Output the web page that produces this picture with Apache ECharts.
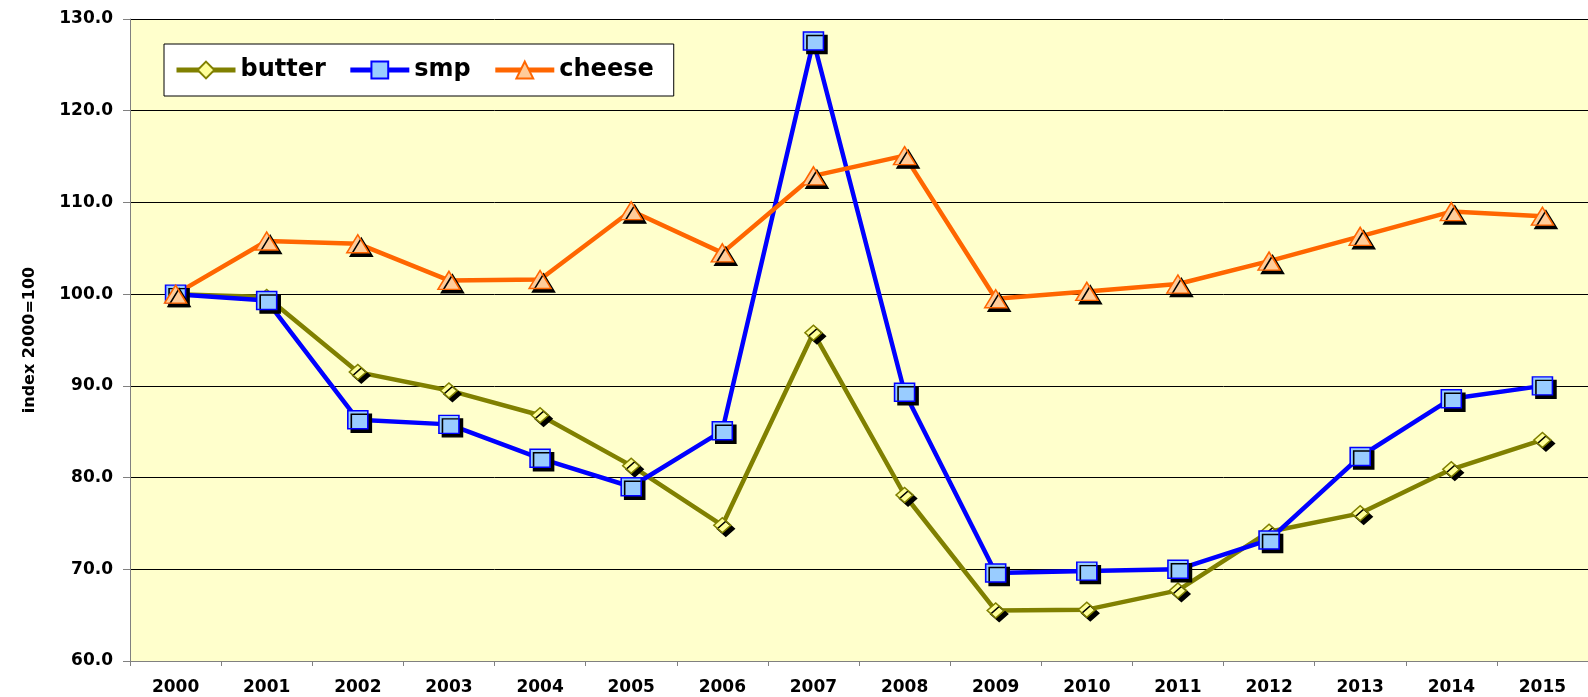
<!DOCTYPE html>
<html>
<head>
<meta charset="utf-8">
<script src="https://cdn.jsdelivr.net/npm/echarts@6/dist/echarts.min.js"></script>
<style>
  html, body { margin: 0; padding: 0; background: #fff; }
</style>
</head>
<body>
<div id="myChart" style="width:1588px;height:697px"></div>
<script>
var years = ['2000', '2001', '2002', '2003', '2004', '2005', '2006', '2007',
  '2008', '2009', '2010', '2011', '2012', '2013', '2014', '2015']

var butter = [100.0, 99.7, 91.5, 89.5, 86.8, 81.3, 74.8, 95.8, 78.1, 65.5, 65.6, 67.7, 74.1, 76.1, 80.9, 84.1]
var smp = [100.0, 99.3, 86.3, 85.8, 82.1, 79.0, 85.1, 127.6, 89.3, 69.6, 69.8, 70.0, 73.2, 82.3, 88.6, 90.0]
var cheese = [100.0, 105.8, 105.5, 101.5, 101.6, 109.1, 104.5, 112.9, 115.1, 99.5, 100.3, 101.1, 103.6, 106.3, 109.0, 108.5]

var font = 'DejaVu Sans, Liberation Sans, sans-serif'

function makeSeries (name, data, line, fill, symbol, size) {
  return {
    name: name,
    type: 'line',
    data: data,
    symbol: symbol,
    symbolSize: size,
    showAllSymbol: true,
    lineStyle: { color: line, width: 4.5 },
    itemStyle: {
      color: fill,
      borderColor: line,
      borderWidth: 1.5,
      shadowColor: '#000',
      shadowBlur: 0,
      shadowOffsetX: 3.5,
      shadowOffsetY: 3.5
    },
    emphasis: { disabled: true }
  }
}

let myChart = echarts.init(document.getElementById('myChart'))

myChart.setOption({
  animation: false,
  grid: {
    left: 130,
    top: 19,
    bottom: 36,
    right: -11,
    show: true,
    backgroundColor: '#FFFFCC',
    borderWidth: 0
  },
  legend: {
    left: 164,
    top: 44,
    padding: [14, 20, 14, 10],
    itemGap: 22,
    itemWidth: 59,
    itemHeight: 21,
    backgroundColor: '#fff',
    borderColor: '#000',
    borderWidth: 1,
    lineStyle: { width: 5 },
    textStyle: { fontFamily: font, fontWeight: 'bold', fontSize: 24, color: '#000' },
    data: ['butter', 'smp', 'cheese']
  },
  xAxis: {
    type: 'category',
    data: years,
    boundaryGap: true,
    axisLine: { lineStyle: { color: '#808080', width: 1 } },
    axisTick: { show: true, length: 5, lineStyle: { color: '#808080' } },
    axisLabel: { fontFamily: font, fontWeight: 'bold', fontSize: 17, color: '#000', margin: 18 },
    splitLine: { show: false }
  },
  yAxis: {
    type: 'value',
    min: 60,
    max: 130,
    interval: 10,
    name: 'index 2000=100',
    nameLocation: 'middle',
    nameRotate: 90,
    nameGap: 92,
    nameTextStyle: { fontFamily: font, fontWeight: 'bold', fontSize: 16, color: '#000' },
    axisLine: { show: true, lineStyle: { color: '#808080', width: 1 } },
    axisTick: { show: true, length: 7, lineStyle: { color: '#808080' } },
    axisLabel: {
      fontFamily: font, fontWeight: 'bold', fontSize: 17, color: '#000', margin: 17,
      formatter: function (v) { return v.toFixed(1) }
    },
    splitLine: { show: true, lineStyle: { color: '#000', width: 1 } }
  },
  series: [
    makeSeries('butter', butter, '#808000', '#FFFF99', 'diamond', [17, 15]),
    makeSeries('smp', smp, '#0000FF', '#99CCFF', 'rect', [20, 18]),
    makeSeries('cheese', cheese, '#FF6600', '#FFCC99', 'triangle', [22, 18])
  ]
})
</script>
</body>
</html>
